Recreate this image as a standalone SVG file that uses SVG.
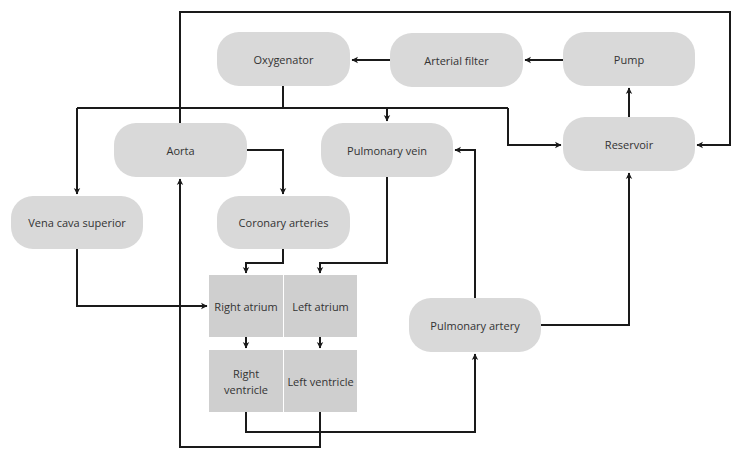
<svg xmlns="http://www.w3.org/2000/svg" width="732" height="450" viewBox="0 0 732 450">
<style>
.n{fill:#d9d9d9;}
.h{fill:#cfcfcf;}
.t{font-family:"Open Sans","Noto Sans",sans-serif;font-size:11px;fill:#333;text-anchor:middle;dominant-baseline:central;}
.c{fill:none;stroke:#1a1a1a;stroke-width:2;stroke-linejoin:miter;}
.a{marker-end:url(#arr);}
</style>
<defs>
<marker id="arr" markerUnits="userSpaceOnUse" markerWidth="8" markerHeight="8" viewBox="0 0 8 8" refX="6.5" refY="4" orient="auto">
<path d="M0.5,0.8 L7,4 L0.5,7.2 L2.2,4 Z" fill="#1a1a1a"/>
</marker>
</defs>
<g id="connectors">
<path class="c" d="M180,123 V12 H730 V145 H697" marker-end="url(#arr)"/>
<path class="c a" d="M563,60 H525"/>
<path class="c a" d="M390,60 H352"/>
<path class="c" d="M283,86 V108"/>
<path class="c a" d="M77,108 V194"/>
<path class="c" d="M77,108 H508"/>
<path class="c a" d="M387,108 V121"/>
<path class="c a" d="M508,108 V145 H561"/>
<path class="c a" d="M247,150 H283 V194"/>
<path class="c a" d="M475,298 V150 H455"/>
<path class="c a" d="M541,325 H629 V173"/>
<path class="c a" d="M629,117 V88"/>
<path class="c a" d="M283,249 V263 H246 V273"/>
<path class="c a" d="M387,177 V263 H320 V273"/>
<path class="c a" d="M77,249 V306 H207"/>
<path class="c a" d="M246,337 V348"/>
<path class="c a" d="M320,337 V348"/>
<path class="c a" d="M246,412 V432 H475 V354"/>
<path class="c a" d="M320,412 V447 H180 V179"/>
</g>
<g id="oxygenator"><rect class="n" x="217" y="32" width="133" height="54" rx="22"/><text class="t" x="283.5" y="59">Oxygenator</text></g>
<g id="arterial-filter"><rect class="n" x="390" y="33" width="133" height="54" rx="22"/><text class="t" x="456.5" y="60">Arterial filter</text></g>
<g id="pump"><rect class="n" x="563" y="32" width="132" height="54" rx="22"/><text class="t" x="629" y="59">Pump</text></g>
<g id="reservoir"><rect class="n" x="563" y="117" width="132" height="54" rx="22"/><text class="t" x="629" y="144">Reservoir</text></g>
<g id="aorta"><rect class="n" x="114" y="123" width="133" height="54" rx="22"/><text class="t" x="180.5" y="150">Aorta</text></g>
<g id="pulmonary-vein"><rect class="n" x="321" y="123" width="132" height="54" rx="22"/><text class="t" x="387" y="150">Pulmonary vein</text></g>
<g id="vena-cava-superior"><rect class="n" x="11" y="196" width="132" height="53" rx="22"/><text class="t" x="77" y="222.5">Vena cava superior</text></g>
<g id="coronary-arteries"><rect class="n" x="217" y="196" width="133" height="53" rx="22"/><text class="t" x="283.5" y="222.5">Coronary arteries</text></g>
<g id="right-atrium"><rect class="h" x="209" y="275" width="74" height="62"/><text class="t" x="246" y="306">Right atrium</text></g>
<g id="left-atrium"><rect class="h" x="284" y="275" width="73" height="62"/><text class="t" x="320.5" y="306">Left atrium</text></g>
<g id="right-ventricle"><rect class="h" x="209" y="350" width="74" height="62"/><text class="t" x="246" y="373.5">Right</text><text class="t" x="246" y="389">ventricle</text></g>
<g id="left-ventricle"><rect class="h" x="284" y="350" width="73" height="62"/><text class="t" x="320.5" y="381">Left ventricle</text></g>
<g id="pulmonary-artery"><rect class="n" x="409" y="298" width="132" height="54" rx="22"/><text class="t" x="475" y="325">Pulmonary artery</text></g>
</svg>
